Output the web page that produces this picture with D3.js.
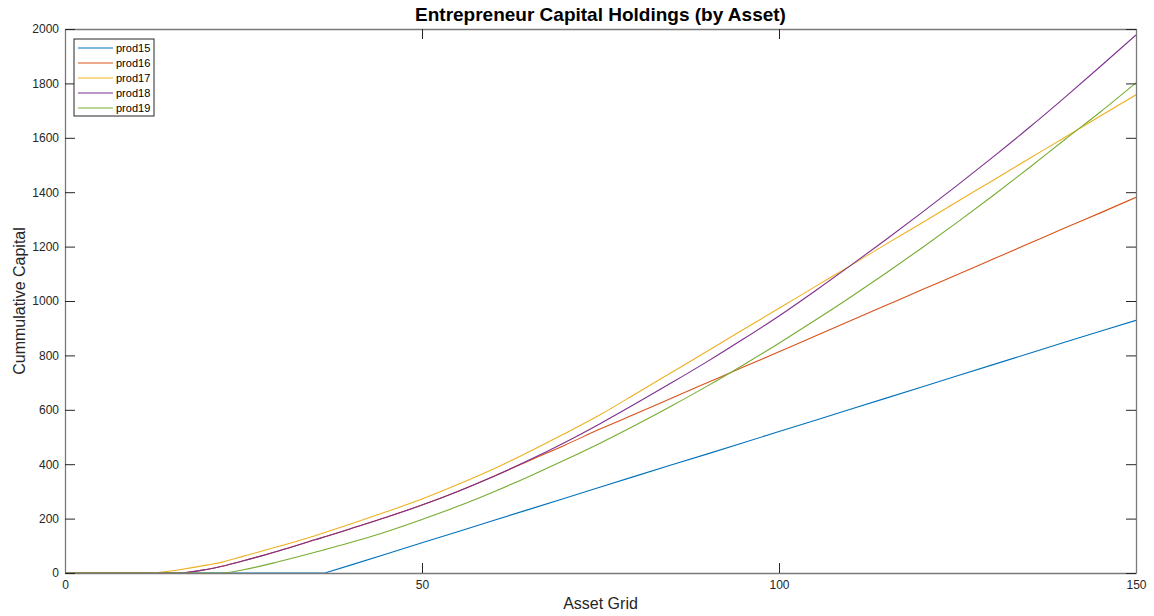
<!DOCTYPE html>
<html>
<head>
<meta charset="utf-8">
<script src="https://cdn.jsdelivr.net/npm/d3@7/dist/d3.min.js"></script>
<style>
  html, body { margin: 0; padding: 0; background: #fff; }
  svg { display: block; font-family: "Liberation Sans", Arial, Helvetica, sans-serif; }
</style>
</head>
<body>
<svg id="chart" width="1154" height="616"></svg>
<script>
// Asset grid points where the holdings are sampled
const assetGrid = [0, 5, 10, 11.4, 15, 16, 20, 22, 25, 30, 35, 36.4,
  40, 45, 50, 55, 60, 65, 70, 75, 80, 85, 90, 95, 100, 105, 110, 115,
  120, 125, 130, 135, 140, 145, 150];

// Cumulative capital by productivity type
const prod15 = [0, 0, 0, 0, 0, 0, 0, 0, 0, 0, 0, 0,
  29, 70, 111, 152, 193, 234, 275, 316, 357, 398, 438, 479, 520, 561, 602, 643,
  684, 725, 766, 807, 848, 889, 929];
const prod16 = [0, 0, 0, 0, 0, 0, 14, 25, 45, 82, 122, 133,
  163, 205, 250, 300, 355, 413, 470, 530, 586, 643, 700, 757, 813, 870, 927, 984,
  1041, 1097, 1154, 1211, 1268, 1324, 1381];
const prod17 = [0, 0, 0, 0, 8, 12, 30, 40, 62, 98, 137, 149,
  180, 225, 272, 325, 382, 446, 513, 583, 660, 738, 816, 895, 973, 1052, 1130, 1209,
  1287, 1366, 1444, 1523, 1601, 1680, 1758];
const prod18 = [0, 0, 0, 0, 0, 0, 14, 25, 45, 82, 122, 133,
  163, 205, 250, 300, 355, 415, 480, 550, 624, 700, 778, 860, 945, 1036, 1130, 1226,
  1325, 1426, 1530, 1637, 1748, 1862, 1978];
const prod19 = [0, 0, 0, 0, 0, 0, 0, 0, 12, 42, 76, 86,
  112, 152, 197, 245, 298, 355, 415, 478, 545, 615, 688, 765, 845, 928, 1014, 1103,
  1195, 1290, 1388, 1489, 1593, 1695, 1802];

const seriesNames = ["prod15", "prod16", "prod17", "prod18", "prod19"];
const seriesValues = [prod15, prod16, prod17, prod18, prod19];
const seriesColors = ["#0072BD", "#D95319", "#EDB120", "#7E2F8E", "#77AC30"];
// prod15 has a sharp corner where it leaves zero; the others bend smoothly
const seriesCurves = [d3.curveLinear, d3.curveMonotoneX, d3.curveMonotoneX, d3.curveMonotoneX, d3.curveMonotoneX];

const xTicks = [0, 50, 100, 150];
const yTicks = [0, 200, 400, 600, 800, 1000, 1200, 1400, 1600, 1800, 2000];

const titleText = "Entrepreneur Capital Holdings (by Asset)";
const xLabel = "Asset Grid";
const yLabel = "Cummulative Capital";

// Layout
const svg = d3.select("#chart");
const plot = { left: 65, right: 1136, top: 29, bottom: 573 };

const x = d3.scaleLinear().domain([0, 150]).range([plot.left, plot.right]);
const y = d3.scaleLinear().domain([0, 2000]).range([plot.bottom, plot.top]);

const tickLen = 10;
const axisColor = "#262626";

// Curves, clipped to the axes box
svg.append("defs").append("clipPath").attr("id", "plotClip")
  .append("rect")
  .attr("x", plot.left).attr("y", plot.top - 1)
  .attr("width", plot.right - plot.left).attr("height", plot.bottom - plot.top + 2);

const lines = svg.append("g").attr("clip-path", "url(#plotClip)");
seriesValues.forEach((vals, i) => {
  const line = d3.line()
    .x(d => x(d[0]))
    .y(d => y(d[1]))
    .curve(seriesCurves[i]);
  lines.append("path")
    .datum(assetGrid.map((a, j) => [a, vals[j]]))
    .attr("fill", "none")
    .attr("stroke", seriesColors[i])
    .attr("stroke-width", 1.1)
    .attr("d", line);
});

// Axes: ticks point inward on all four sides
const axBottom = svg.append("g").attr("transform", `translate(0,${plot.bottom})`)
  .call(d3.axisBottom(x).tickValues(xTicks).tickSizeInner(-tickLen).tickSizeOuter(0).tickPadding(5).tickFormat(d3.format("d")));
const axTop = svg.append("g").attr("transform", `translate(0,${plot.top})`)
  .call(d3.axisTop(x).tickValues(xTicks).tickSizeInner(-tickLen).tickSizeOuter(0).tickFormat(""));
const axLeft = svg.append("g").attr("transform", `translate(${plot.left},0)`)
  .call(d3.axisLeft(y).tickValues(yTicks).tickSizeInner(-tickLen).tickSizeOuter(0).tickPadding(6).tickFormat(d3.format("d")));
const axRight = svg.append("g").attr("transform", `translate(${plot.right},0)`)
  .call(d3.axisRight(y).tickValues(yTicks).tickSizeInner(-tickLen).tickSizeOuter(0).tickFormat(""));

[axBottom, axTop, axLeft, axRight].forEach(g => {
  g.select(".domain").attr("stroke", "#7a7a7a").attr("stroke-width", 1.3);
  g.selectAll(".tick line").attr("stroke", axisColor).attr("stroke-width", 1);
  g.selectAll(".tick text")
    .attr("fill", axisColor)
    .style("font-size", "12px")
    .style("font-family", "'Liberation Sans', Arial, sans-serif");
});
axBottom.selectAll(".tick text").attr("dy", "0.9em");

// Title and axis labels
svg.append("text")
  .attr("x", (plot.left + plot.right) / 2).attr("y", 21)
  .attr("text-anchor", "middle")
  .style("font-size", "19px").style("font-weight", "bold")
  .attr("fill", "#000")
  .text(titleText);

svg.append("text")
  .attr("x", (plot.left + plot.right) / 2).attr("y", 609)
  .attr("text-anchor", "middle")
  .style("font-size", "16px")
  .attr("fill", axisColor)
  .text(xLabel);

svg.append("text")
  .attr("transform", `translate(25,${(plot.top + plot.bottom) / 2}) rotate(-90)`)
  .attr("text-anchor", "middle")
  .style("font-size", "16px")
  .attr("fill", axisColor)
  .text(yLabel);

// Legend
const legend = svg.append("g").attr("transform", "translate(74,39)");
legend.append("rect")
  .attr("x", 0).attr("y", 0).attr("width", 80).attr("height", 77)
  .attr("fill", "#fff").attr("stroke", axisColor).attr("stroke-width", 1);
seriesNames.forEach((name, i) => {
  const ry = 9 + i * 15;
  legend.append("line")
    .attr("x1", 4).attr("x2", 39).attr("y1", ry).attr("y2", ry)
    .attr("stroke", seriesColors[i]).attr("stroke-width", 1.1);
  legend.append("text")
    .attr("x", 42).attr("y", ry).attr("dy", "0.35em")
    .style("font-size", "11px")
    .attr("fill", "#000")
    .text(name);
});
</script>
</body>
</html>
